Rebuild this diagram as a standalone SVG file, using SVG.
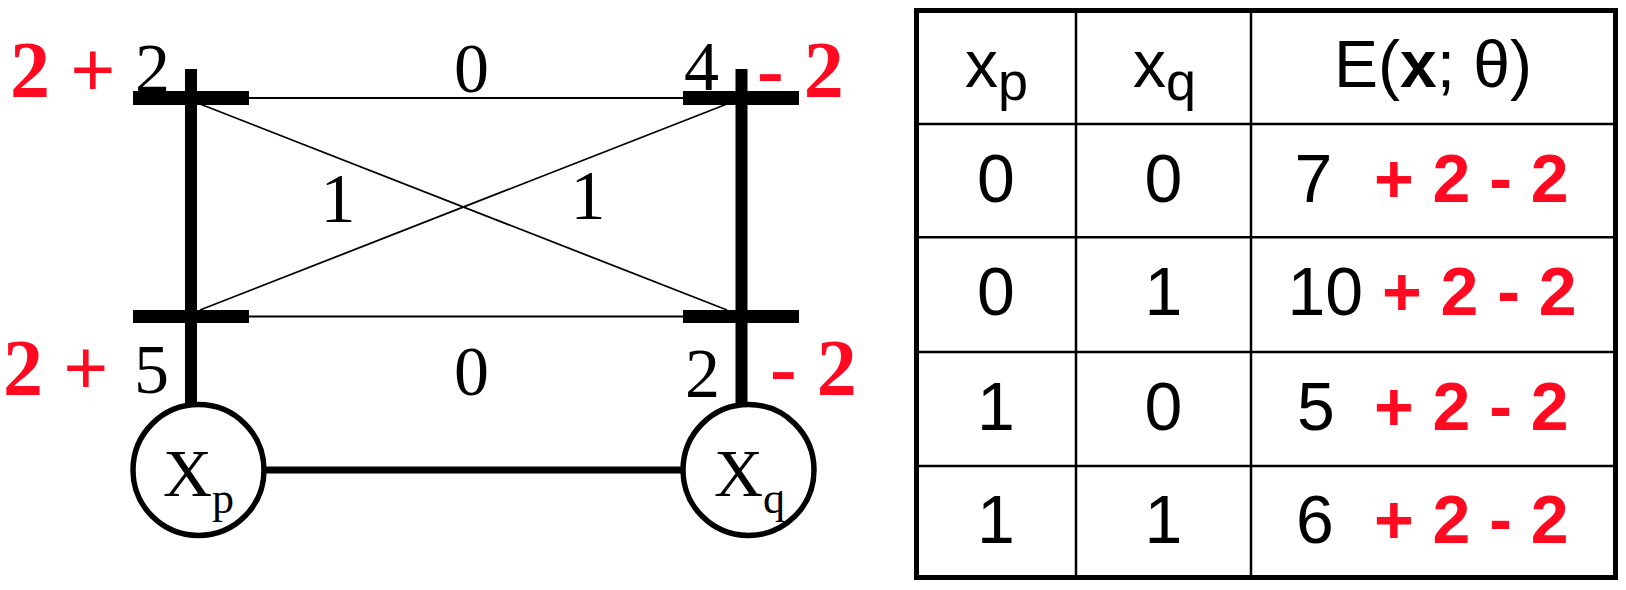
<svg xmlns="http://www.w3.org/2000/svg" width="1626" height="590" viewBox="0 0 1626 590">
<style>
.serif{font-family:"Liberation Serif","Times New Roman",serif;font-size:70px;fill:#000}
.red{font-family:"Liberation Serif","Times New Roman",serif;font-size:80px;font-weight:bold;fill:#ff0a20}
.sans{font-family:"Liberation Sans",Arial,sans-serif;font-size:68px;fill:#000}
.sansh{font-family:"Liberation Sans",Arial,sans-serif;font-size:66px;fill:#000}
.redb{font-weight:bold;fill:#ff0a20}
.bar{fill:#000}
.thin{stroke:#000;stroke-width:1.8;fill:none}
.node{fill:#fff;stroke:#000;stroke-width:5.5}
.grid{stroke:#000;stroke-width:2.5;fill:none}
.outer{stroke:#000;stroke-width:5;fill:none}
</style>
<rect width="1626" height="590" fill="#fff"/>
<g id="connectors">
  <line class="thin" x1="249" y1="98" x2="683" y2="98"/>
  <line class="thin" x1="249" y1="316.5" x2="683" y2="316.5"/>
  <line class="thin" x1="200" y1="104" x2="727" y2="310"/>
  <line class="thin" x1="200" y1="310" x2="727" y2="104"/>
  <line x1="264" y1="470" x2="683" y2="470" stroke="#000" stroke-width="7"/>
  <text class="serif" x="471.5" y="92" text-anchor="middle">0</text>
  <text class="serif" x="471.5" y="395" text-anchor="middle">0</text>
  <text class="serif" x="338" y="222" text-anchor="middle">1</text>
  <text class="serif" x="588" y="219" text-anchor="middle">1</text>
</g>
<g id="node-xp">
  <text class="serif" x="135" y="92">2</text>
  <text class="serif" x="134" y="393">5</text>
  <rect class="bar" x="185" y="69" width="12" height="336"/>
  <rect class="bar" x="133" y="91" width="116" height="14"/>
  <rect class="bar" x="133" y="310" width="116" height="13"/>
  <circle class="node" cx="198.5" cy="470" r="65.5"/>
  <text class="serif" x="163" y="496" style="font-size:68px">X<tspan dy="17" style="font-size:44px">p</tspan></text>
  <text class="red" x="10" y="97">2 +</text>
  <text class="red" x="3" y="395">2 +</text>
</g>
<g id="node-xq">
  <text class="serif" x="684" y="90">4</text>
  <text class="serif" x="685" y="397">2</text>
  <rect class="bar" x="735.5" y="69" width="12" height="336"/>
  <rect class="bar" x="683" y="91" width="116" height="14"/>
  <rect class="bar" x="683" y="310" width="116" height="13"/>
  <circle class="node" cx="748.5" cy="470" r="65.5"/>
  <text class="serif" x="714" y="496" style="font-size:68px">X<tspan dy="17" style="font-size:44px">q</tspan></text>
  <text class="red" x="757" y="97">- 2</text>
  <text class="red" x="770" y="395">- 2</text>
</g>
<g id="table">
  <rect class="outer" x="916.5" y="10.5" width="699" height="567"/>
  <line class="grid" x1="1076" y1="10.5" x2="1076" y2="577.5"/>
  <line class="grid" x1="1251" y1="10.5" x2="1251" y2="577.5"/>
  <line class="grid" x1="916.5" y1="124" x2="1615.5" y2="124"/>
  <line class="grid" x1="916.5" y1="237.3" x2="1615.5" y2="237.3"/>
  <line class="grid" x1="916.5" y1="352" x2="1615.5" y2="352"/>
  <line class="grid" x1="916.5" y1="466" x2="1615.5" y2="466"/>
  <text class="sansh" x="965" y="87">x<tspan dy="13" style="font-size:54px">p</tspan></text>
  <text class="sansh" x="1133" y="87">x<tspan dy="13" style="font-size:54px">q</tspan></text>
  <text class="sansh" x="1433" y="87" text-anchor="middle">E(<tspan font-weight="bold">x</tspan>; θ)</text>
  <text class="sans" x="996" y="202" text-anchor="middle">0</text>
  <text class="sans" x="1163.5" y="202" text-anchor="middle">0</text>
  <text class="sans" x="996" y="315" text-anchor="middle">0</text>
  <text class="sans" x="1163.5" y="315" text-anchor="middle">1</text>
  <text class="sans" x="996" y="430" text-anchor="middle">1</text>
  <text class="sans" x="1163.5" y="430" text-anchor="middle">0</text>
  <text class="sans" x="996" y="543" text-anchor="middle">1</text>
  <text class="sans" x="1163.5" y="543" text-anchor="middle">1</text>
  <text class="sans" xml:space="preserve" x="1294.5" y="202">7<tspan class="redb" x="1374">+ 2 - 2</tspan></text>
  <text class="sans" xml:space="preserve" x="1287.5" y="315">10<tspan class="redb" x="1382">+ 2 - 2</tspan></text>
  <text class="sans" xml:space="preserve" x="1297" y="430">5<tspan class="redb" x="1374">+ 2 - 2</tspan></text>
  <text class="sans" xml:space="preserve" x="1296" y="543">6<tspan class="redb" x="1374">+ 2 - 2</tspan></text>
</g>
</svg>
